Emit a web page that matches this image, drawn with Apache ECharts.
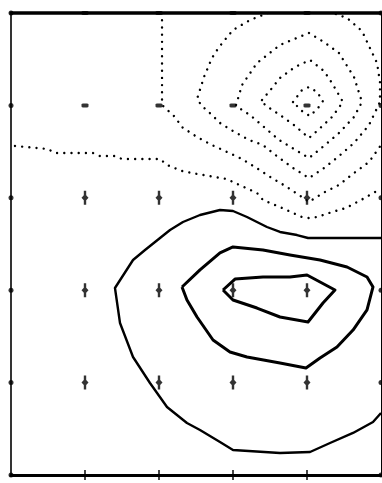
<!DOCTYPE html>
<html>
<head>
<meta charset="utf-8">
<script src="https://cdn.jsdelivr.net/npm/echarts@6/dist/echarts.min.js"></script>
<style>
  html, body { margin: 0; padding: 0; background: #fff; }
  #contour-chart { width: 382px; height: 483px; }
</style>
</head>
<body>
<div id="contour-chart"></div>
<script>
// grid nodes (x = column, y = row from bottom)
const gridCols = [0, 1, 2, 3, 4, 5];
const gridRows = [5, 4, 3, 2, 1, 0];
// marker kind at each node, top row first: o = dot on frame, - negative, + positive, | tick
const nodeSigns = [
  ['o', '-', '-', '-', '-', 'o'],
  ['o', '-', '-', '-', '-', 'o'],
  ['o', '+', '+', '+', '+', 'o'],
  ['o', '+', '+', '+', '+', 'o'],
  ['o', '+', '+', '+', '+', 'o'],
  ['o', '|', '|', '|', '|', 'o'],
];

// positive contours (solid)
const posOuter = [
  [5.0, 2.565], [4.014, 2.565], [3.865, 2.597], [3.635, 2.63], [3.459, 2.684], [3.189, 2.792],
  [3.0, 2.857], [2.824, 2.868], [2.554, 2.814], [2.324, 2.738], [2.149, 2.652], [2.014, 2.565],
  [1.811, 2.435], [1.649, 2.327], [1.405, 2.024], [1.473, 1.645], [1.649, 1.277], [1.878, 0.996],
  [2.108, 0.736], [2.378, 0.563], [2.554, 0.487], [2.824, 0.357], [3.0, 0.271], [3.635, 0.238],
  [4.041, 0.249], [4.311, 0.346], [4.622, 0.455], [4.892, 0.574], [5.0, 0.671],
];
const posMiddle = [
  [2.311, 2.035], [2.378, 1.894], [2.514, 1.71], [2.73, 1.461], [2.959, 1.331], [3.189, 1.277],
  [3.635, 1.212], [3.986, 1.158], [4.176, 1.266], [4.405, 1.385], [4.622, 1.569], [4.811, 1.786],
  [4.892, 2.035], [4.811, 2.143], [4.541, 2.251], [4.176, 2.327], [3.77, 2.381], [3.405, 2.435],
  [3.0, 2.468], [2.824, 2.403], [2.554, 2.219], [2.311, 2.035],
];
const posInner = [
  [2.865, 2.002], [3.027, 2.121], [3.405, 2.143], [3.77, 2.143], [4.0, 2.165], [4.378, 2.002],
  [4.216, 1.861], [4.014, 1.656], [3.635, 1.71], [3.324, 1.807], [3.0, 1.894], [2.865, 2.002],
];

// negative contours (dotted), innermost first
const neg1 = [
  [3.811, 4.037], [3.932, 4.167], [4.027, 4.199], [4.135, 4.145], [4.216, 4.048],
  [4.149, 3.972], [4.041, 3.885], [3.932, 3.939], [3.811, 4.037],
];
const neg2 = [
  [3.392, 4.058], [3.527, 4.188], [3.635, 4.297], [3.838, 4.416], [4.041, 4.491], [4.23, 4.372],
  [4.338, 4.242], [4.486, 4.037], [4.338, 3.874], [4.135, 3.723], [4.027, 3.647], [3.824, 3.788],
  [3.635, 3.896], [3.432, 4.004], [3.392, 4.058],
];
const neg3 = [
  [3.041, 4.004], [3.122, 4.221], [3.324, 4.459], [3.635, 4.654], [4.027, 4.784], [4.23, 4.686],
  [4.432, 4.567], [4.635, 4.307], [4.743, 4.037], [4.635, 3.874], [4.432, 3.701], [4.243, 3.571],
  [4.027, 3.431], [3.824, 3.528], [3.622, 3.626], [3.419, 3.766], [3.23, 3.896], [3.122, 3.95],
  [3.041, 4.004],
];
const neg4 = [
  [3.473, 5.0], [3.23, 4.924], [3.0, 4.816], [2.811, 4.632], [2.716, 4.513], [2.608, 4.307],
  [2.514, 4.069], [2.581, 3.994], [2.716, 3.896], [2.824, 3.81], [3.0, 3.723], [3.216, 3.626],
  [3.405, 3.571], [3.608, 3.442], [3.811, 3.323], [4.027, 3.214], [4.23, 3.323], [4.419, 3.442],
  [4.635, 3.593], [4.838, 3.788], [4.986, 4.037], [4.986, 4.253], [4.946, 4.459], [4.851, 4.621],
  [4.743, 4.805], [4.541, 4.946], [4.351, 5.0],
];
const neg5 = [
  [2.041, 5.0], [2.041, 4.004], [2.216, 3.874], [2.311, 3.766], [2.514, 3.658], [2.716, 3.571],
  [2.919, 3.496], [3.122, 3.42], [3.297, 3.333], [3.527, 3.214], [3.73, 3.117], [3.932, 3.009],
  [4.027, 2.955], [4.216, 3.052], [4.432, 3.139], [4.635, 3.268], [4.838, 3.387], [5.0, 3.571],
];
const neg6 = [
  [0.054, 3.561], [0.5, 3.528], [0.595, 3.485], [1.108, 3.485], [1.203, 3.452], [1.405, 3.452],
  [1.5, 3.42], [2.014, 3.42], [2.108, 3.355], [2.311, 3.29], [2.514, 3.258], [2.919, 3.203],
  [3.027, 3.16], [3.324, 3.052], [3.405, 2.976], [3.662, 2.89], [3.932, 2.792], [4.027, 2.781],
  [4.135, 2.792], [4.338, 2.846], [4.527, 2.89], [4.73, 2.976], [4.919, 3.063], [5.0, 3.106],
];

function nodesOf(kind) {
  let pts = [];
  gridRows.forEach((y, r) => {
    gridCols.forEach((x, c) => {
      if (nodeSigns[r][c] === kind) pts.push([x, y]);
    });
  });
  return pts;
}

function contourLine(data, dotted, width) {
  return {
    type: 'line',
    data: data,
    showSymbol: false,
    symbol: 'none',
    silent: true,
    z: 3,
    lineStyle: dotted
      ? { color: '#000', width: 2.4, type: [0.01, 7.2], cap: 'round' }
      : { color: '#000', width: width, join: 'round' },
  };
}

const plusPath = 'path://M2.3,0H4.7V4.5L7,7L4.7,9.5V14H2.3V9.5L0,7L2.3,4.5Z';

let chartDom = document.getElementById('contour-chart');
let myChart = echarts.init(chartDom, null, { renderer: 'canvas' });

let option = {
  animation: false,
  backgroundColor: '#fff',
  grid: { left: 11, right: 1, top: 13, bottom: 8, containLabel: false },
  xAxis: [
    {
      type: 'value', min: 0, max: 5, position: 'bottom',
      axisLine: { show: true, onZero: false, lineStyle: { color: '#000', width: 3 } },
      axisTick: { show: false }, axisLabel: { show: false }, splitLine: { show: false },
    },
    {
      type: 'value', min: 0, max: 5, position: 'top',
      axisLine: { show: true, onZero: false, lineStyle: { color: '#000', width: 3.5 } },
      axisTick: { show: false }, axisLabel: { show: false }, splitLine: { show: false },
    },
  ],
  yAxis: [
    {
      type: 'value', min: 0, max: 5, position: 'left',
      axisLine: { show: true, onZero: false, lineStyle: { color: '#000', width: 1.6 } },
      axisTick: { show: false }, axisLabel: { show: false }, splitLine: { show: false },
    },
    {
      type: 'value', min: 0, max: 5, position: 'right',
      axisLine: { show: true, onZero: false, lineStyle: { color: '#000', width: 1 } },
      axisTick: { show: false }, axisLabel: { show: false }, splitLine: { show: false },
    },
  ],
  series: [
    contourLine(posOuter, false, 2.4),
    contourLine(posMiddle, false, 3),
    contourLine(posInner, false, 3),
    contourLine(neg1, true),
    contourLine(neg2, true),
    contourLine(neg3, true),
    contourLine(neg4, true),
    contourLine(neg5, true),
    contourLine(neg6, true),
    {
      type: 'scatter', data: nodesOf('+'), symbol: plusPath, symbolSize: [7, 14],
      itemStyle: { color: '#000' }, silent: true, z: 4,
    },
    {
      type: 'scatter', data: nodesOf('-'), symbol: 'roundRect', symbolSize: [7, 4],
      itemStyle: { color: '#000' }, silent: true, z: 4,
    },
    {
      type: 'scatter', data: nodesOf('o'), symbol: 'circle', symbolSize: 5,
      itemStyle: { color: '#000' }, silent: true, z: 4,
    },
    {
      type: 'scatter', data: nodesOf('|'), symbol: 'rect', symbolSize: [1.8, 10],
      itemStyle: { color: '#000' }, silent: true, z: 4,
    },
  ],
};

myChart.setOption(option);
</script>
</body>
</html>
